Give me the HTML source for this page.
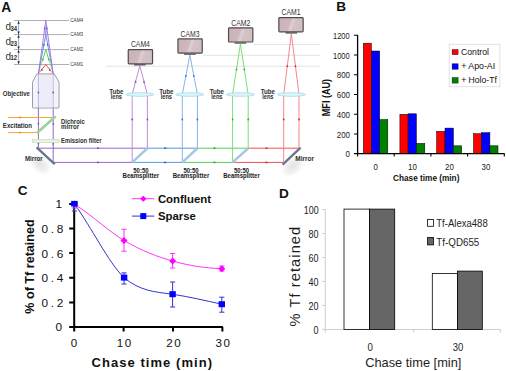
<!DOCTYPE html>
<html><head><meta charset="utf-8">
<style>
html,body{margin:0;padding:0;background:#fff;}
body{width:506px;height:371px;overflow:hidden;}
svg{display:block;font-family:"Liberation Sans",sans-serif;}
</style></head>
<body>
<svg width="506" height="371" viewBox="0 0 506 371">
<rect x="0" y="0" width="506" height="371" fill="#fff"/>

<!-- ================= PANEL A ================= -->
<g id="panelA">
<text x="1.2" y="12.1" font-size="13.8" font-weight="bold" fill="#111">A</text>
<g stroke="#dcdcdc" stroke-width="0.8"><path d="M254 44.5H320M203 55.3H320M106 66.2H320"/></g>
<g stroke="#b0b0b0" stroke-width="1"><path d="M14 20.5H69M14 34.6H69M14 49.6H69M14 64.5H69"/></g>
<text x="70.2" y="22.3" font-size="6.0" fill="#333" textLength="13.0" lengthAdjust="spacingAndGlyphs">CAM4</text>
<text x="70.2" y="36.4" font-size="6.0" fill="#333" textLength="13.0" lengthAdjust="spacingAndGlyphs">CAM3</text>
<text x="70.2" y="51.4" font-size="6.0" fill="#333" textLength="13.0" lengthAdjust="spacingAndGlyphs">CAM2</text>
<text x="70.2" y="66.3" font-size="6.0" fill="#333" textLength="13.0" lengthAdjust="spacingAndGlyphs">CAM1</text>
<g stroke="#555" stroke-width="0.5"><path d="M18.6 21V64"/></g>
<g fill="#222">
<path d="M18.6 20.9l-1.2 2.8h2.4z"/>
<path d="M18.6 34.2l-1.2 -2.8h2.4z"/>
<path d="M18.6 35.0l-1.2 2.8h2.4z"/>
<path d="M18.6 49.2l-1.2 -2.8h2.4z"/>
<path d="M18.6 50.0l-1.2 2.8h2.4z"/>
<path d="M18.6 64.1l-1.2 -2.8h2.4z"/>
</g>
<text x="5.4" y="30.2" font-size="10" fill="#333">d</text>
<text x="10.5" y="31.0" font-size="6.4" font-weight="bold" fill="#2a2a2a" textLength="6.6" lengthAdjust="spacingAndGlyphs">34</text>
<text x="5.4" y="44.9" font-size="10" fill="#333">d</text>
<text x="10.5" y="45.699999999999996" font-size="6.4" font-weight="bold" fill="#2a2a2a" textLength="6.6" lengthAdjust="spacingAndGlyphs">23</text>
<text x="5.4" y="59.6" font-size="10" fill="#333">d</text>
<text x="10.5" y="60.4" font-size="6.4" font-weight="bold" fill="#2a2a2a" textLength="6.6" lengthAdjust="spacingAndGlyphs">12</text>
<defs><linearGradient id="gG" gradientUnits="userSpaceOnUse" x1="0" y1="49.6" x2="0" y2="74"><stop offset="0" stop-color="#40d040"/><stop offset="0.42" stop-color="#40d040"/><stop offset="0.62" stop-color="#40d040" stop-opacity="0.3"/><stop offset="1" stop-color="#40d040" stop-opacity="0.12"/></linearGradient><linearGradient id="gR" gradientUnits="userSpaceOnUse" x1="0" y1="64.5" x2="0" y2="74"><stop offset="0" stop-color="#e84040"/><stop offset="0.55" stop-color="#e84040"/><stop offset="0.8" stop-color="#e84040" stop-opacity="0.35"/><stop offset="1" stop-color="#e84040" stop-opacity="0.15"/></linearGradient></defs>
<path d="M38.4 74L45.8 20.5L53.2 74" fill="none" stroke="#a070d8" stroke-width="0.9"/>
<path d="M38.4 74L45.8 34.6L53.2 74" fill="none" stroke="#6a84e4" stroke-width="0.9"/>
<path d="M38.4 74L45.8 49.6L53.2 74" fill="none" stroke="url(#gG)" stroke-width="0.9"/>
<path d="M38.4 74L45.8 64.5L53.2 74" fill="none" stroke="url(#gR)" stroke-width="0.9"/>
<path d="M45.8 34.6L44.7 26M45.8 34.6L46.9 26" stroke="#6a84e4" stroke-width="0.7" fill="none"/>
<path d="M44.75 26.80l-1.1 2.4h2.2z" fill="#a050d0"/>
<path d="M46.85 26.80l-1.1 2.4h2.2z" fill="#a050d0"/>
<path d="M43.94 43.20l-1.1 2.4h2.2z" fill="#3060e0"/>
<path d="M47.66 43.20l-1.1 2.4h2.2z" fill="#3060e0"/>
<path d="M42.89 57.90l-1.1 2.4h2.2z" fill="#30c030"/>
<path d="M48.71 57.90l-1.1 2.4h2.2z" fill="#30c030"/>
<path d="M41.83 68.30l-1.1 2.4h2.2z" fill="#e03030"/>
<path d="M49.77 68.30l-1.1 2.4h2.2z" fill="#e03030"/>
<g stroke="#946ac8" stroke-width="1" fill="none"><path d="M38.4 74V148.2H147.4M53.2 74V162.4H132.2"/></g>
<path d="M36.9 73.9H54.3L59 82.2V107.2Q59 108 58.2 108H33.3Q32.5 108 32.5 107.2V82.2Z" fill="#e9ecf5" fill-opacity="0.55" stroke="#9c9cab" stroke-width="1"/>
<rect x="39.2" y="75" width="13.2" height="32.5" fill="#e6e8f8" fill-opacity="0.6"/>
<path d="M38.4 94.2l-1.1 -2.4h2.2z" fill="#8050c0"/>
<path d="M38.4 145.6l-1.1 -2.4h2.2z" fill="#8050c0"/>
<path d="M38.4 125.6l-1.1 -2.4h2.2z" fill="#8050c0"/>
<path d="M53.2 94.2l-1.1 -2.4h2.2z" fill="#8050c0"/>
<path d="M53.2 145.6l-1.1 -2.4h2.2z" fill="#8050c0"/>
<path d="M53.2 125.6l-1.1 -2.4h2.2z" fill="#8050c0"/>
<g stroke="#f7a540" stroke-width="1"><path d="M7.9 117.5H55M7.9 132.6H37.7"/></g>
<g fill="#e08a20"><path d="M22 117.5l-2.4 -1.2v2.4z" /><path d="M22 132.6l-2.4 -1.2v2.4z"/></g>
<path d="M37.2 132.8L55.6 116.4" stroke="#88cc88" stroke-width="2.6"/>
<path d="M37.2 132.8L55.6 116.4" stroke="#b8e4b0" stroke-width="0.8" />
<rect x="32.4" y="139.4" width="26.7" height="3.1" fill="#e8f3e2" stroke="#c6dcbc" stroke-width="0.7"/>
<defs><radialGradient id="shd" cx="0.5" cy="0.5" r="0.5"><stop offset="0" stop-color="#e3e3e3"/><stop offset="0.55" stop-color="#f1f1f1"/><stop offset="1" stop-color="#fff" stop-opacity="0"/></radialGradient></defs>
<ellipse cx="40" cy="164" rx="15" ry="10" fill="url(#shd)" transform="rotate(43 40 164)"/>
<ellipse cx="293" cy="166" rx="16" ry="10" fill="url(#shd)" transform="rotate(-43 293 166)"/>
<path d="M36.6 147.4L54.7 164.2" stroke="#66768f" stroke-width="2.3"/>
<path d="M282.6 164.6L300.6 147.6" stroke="#66768f" stroke-width="2.3"/>
<path d="M147.4 148.2H197.4M132.2 162.4H182.3" stroke="#5a98d4" stroke-width="1" fill="none"/>
<path d="M197.4 148.2H248.2M182.3 162.4H232.6" stroke="#58d058" stroke-width="1" fill="none"/>
<path d="M248.2 148.2H299M232.6 162.4H283.7" stroke="#f05050" stroke-width="1" fill="none"/>
<defs><linearGradient id="camg" x1="0" y1="0" x2="1" y2="0.2"><stop offset="0" stop-color="#cab1b7"/><stop offset="0.5" stop-color="#cfb8bd"/><stop offset="0.6" stop-color="#e0d0d4"/><stop offset="0.7" stop-color="#d5c2c6"/><stop offset="1" stop-color="#d2bfc3"/></linearGradient></defs>
<path d="M132.2 162.4V94.4L139.80 65.8L147.4 94.4V148.2" stroke="#bb80d8" stroke-width="0.9" fill="none"/>
<path d="M132.2 117.8l-1.1 2.4h2.2z" fill="#9040b0"/>
<path d="M147.4 117.8l-1.1 2.4h2.2z" fill="#9040b0"/>
<path d="M135.60 80.30l-1.1 2.4h2.2z" fill="#9040b0"/>
<path d="M144.00 80.30l-1.1 2.4h2.2z" fill="#9040b0"/>
<ellipse cx="139.80" cy="94.5" rx="14.1" ry="1.8" fill="#ddf5fa" stroke="#98d4e4" stroke-width="0.7"/>
<rect x="128.25" y="49.60" width="24.3" height="14.2" rx="0.8" fill="url(#camg)" stroke="#4f4b4c" stroke-width="1.2"/>
<rect x="134.00" y="64.1" width="11.6" height="1.4" fill="#555"/>
<text x="130.9" y="47.3" font-size="8.3" fill="#333" textLength="19.0" lengthAdjust="spacingAndGlyphs">CAM4</text>
<text x="109.2" y="93.5" font-size="6.4" font-weight="bold" fill="#2e2e2e" textLength="14.3" lengthAdjust="spacingAndGlyphs">Tube</text>
<text x="110.7" y="99.1" font-size="6.4" font-weight="bold" fill="#2e2e2e" textLength="11.3" lengthAdjust="spacingAndGlyphs">lens</text>
<path d="M182.3 162.4V94.4L189.85 55.1L197.4 94.4V148.2" stroke="#78ace4" stroke-width="0.9" fill="none"/>
<path d="M182.3 117.8l-1.1 2.4h2.2z" fill="#3070c8"/>
<path d="M197.4 117.8l-1.1 2.4h2.2z" fill="#3070c8"/>
<path d="M185.89 74.40l-1.1 2.4h2.2z" fill="#3070c8"/>
<path d="M193.81 74.40l-1.1 2.4h2.2z" fill="#3070c8"/>
<ellipse cx="189.85" cy="94.5" rx="14.1" ry="1.8" fill="#ddf5fa" stroke="#98d4e4" stroke-width="0.7"/>
<rect x="177.95" y="38.90" width="24.3" height="14.2" rx="0.8" fill="url(#camg)" stroke="#4f4b4c" stroke-width="1.2"/>
<rect x="184.05" y="53.4" width="11.6" height="1.4" fill="#555"/>
<text x="180.6" y="36.6" font-size="8.3" fill="#333" textLength="19.0" lengthAdjust="spacingAndGlyphs">CAM3</text>
<text x="159.2" y="93.5" font-size="6.4" font-weight="bold" fill="#2e2e2e" textLength="14.3" lengthAdjust="spacingAndGlyphs">Tube</text>
<text x="160.7" y="99.1" font-size="6.4" font-weight="bold" fill="#2e2e2e" textLength="11.3" lengthAdjust="spacingAndGlyphs">lens</text>
<path d="M232.6 162.4V94.4L240.40 44.0L248.2 94.4V148.2" stroke="#68dc68" stroke-width="0.9" fill="none"/>
<path d="M232.6 117.8l-1.1 2.4h2.2z" fill="#20b020"/>
<path d="M248.2 117.8l-1.1 2.4h2.2z" fill="#20b020"/>
<path d="M236.50 67.90l-1.1 2.4h2.2z" fill="#20b020"/>
<path d="M244.30 67.90l-1.1 2.4h2.2z" fill="#20b020"/>
<ellipse cx="240.40" cy="94.5" rx="14.1" ry="1.8" fill="#ddf5fa" stroke="#98d4e4" stroke-width="0.7"/>
<rect x="228.55" y="27.80" width="24.3" height="14.2" rx="0.8" fill="url(#camg)" stroke="#4f4b4c" stroke-width="1.2"/>
<rect x="234.60" y="42.3" width="11.6" height="1.4" fill="#555"/>
<text x="231.2" y="25.5" font-size="8.3" fill="#333" textLength="19.0" lengthAdjust="spacingAndGlyphs">CAM2</text>
<text x="209.7" y="93.5" font-size="6.4" font-weight="bold" fill="#2e2e2e" textLength="14.3" lengthAdjust="spacingAndGlyphs">Tube</text>
<text x="211.2" y="99.1" font-size="6.4" font-weight="bold" fill="#2e2e2e" textLength="11.3" lengthAdjust="spacingAndGlyphs">lens</text>
<path d="M283.7 162.4V94.4L291.35 33.9L299.0 94.4V148.2" stroke="#f27a7a" stroke-width="0.9" fill="none"/>
<path d="M283.7 117.8l-1.1 2.4h2.2z" fill="#e02020"/>
<path d="M299.0 117.8l-1.1 2.4h2.2z" fill="#e02020"/>
<path d="M287.29 64.70l-1.1 2.4h2.2z" fill="#e02020"/>
<path d="M295.41 64.70l-1.1 2.4h2.2z" fill="#e02020"/>
<ellipse cx="291.35" cy="94.5" rx="14.1" ry="1.8" fill="#ddf5fa" stroke="#98d4e4" stroke-width="0.7"/>
<rect x="278.85" y="17.70" width="24.3" height="14.2" rx="0.8" fill="url(#camg)" stroke="#4f4b4c" stroke-width="1.2"/>
<rect x="285.55" y="32.2" width="11.6" height="1.4" fill="#555"/>
<text x="281.5" y="15.4" font-size="8.3" fill="#333" textLength="19.0" lengthAdjust="spacingAndGlyphs">CAM1</text>
<text x="260.7" y="93.5" font-size="6.4" font-weight="bold" fill="#2e2e2e" textLength="14.3" lengthAdjust="spacingAndGlyphs">Tube</text>
<text x="262.2" y="99.1" font-size="6.4" font-weight="bold" fill="#2e2e2e" textLength="11.3" lengthAdjust="spacingAndGlyphs">lens</text>
<path d="M132.2 162.4L147.4 148.2" stroke="#a6c8e4" stroke-width="2.6"/>
<text x="133.3" y="172.8" font-size="7.2" font-weight="bold" fill="#222" textLength="15.2" lengthAdjust="spacingAndGlyphs">50:50</text>
<text x="122.6" y="178.1" font-size="7.0" font-weight="bold" fill="#222" textLength="36.6" lengthAdjust="spacingAndGlyphs">Beamsplitter</text>
<path d="M182.3 162.4L197.4 148.2" stroke="#a6c8e4" stroke-width="2.6"/>
<text x="183.4" y="172.8" font-size="7.2" font-weight="bold" fill="#222" textLength="15.2" lengthAdjust="spacingAndGlyphs">50:50</text>
<text x="172.7" y="178.1" font-size="7.0" font-weight="bold" fill="#222" textLength="36.6" lengthAdjust="spacingAndGlyphs">Beamsplitter</text>
<path d="M232.6 162.4L248.2 148.2" stroke="#a6c8e4" stroke-width="2.6"/>
<text x="233.9" y="172.8" font-size="7.2" font-weight="bold" fill="#222" textLength="15.2" lengthAdjust="spacingAndGlyphs">50:50</text>
<text x="223.2" y="178.1" font-size="7.0" font-weight="bold" fill="#222" textLength="36.6" lengthAdjust="spacingAndGlyphs">Beamsplitter</text>
<path d="M99.8 148.2l-2.6 -1.1v2.2z" fill="#8040c0"/>
<path d="M99.8 162.4l-2.6 -1.1v2.2z" fill="#8040c0"/>
<path d="M167.0 148.2l-2.6 -1.1v2.2z" fill="#2060b0"/>
<path d="M167.0 162.4l-2.6 -1.1v2.2z" fill="#2060b0"/>
<path d="M216.3 148.2l-2.6 -1.1v2.2z" fill="#20a020"/>
<path d="M216.3 162.4l-2.6 -1.1v2.2z" fill="#20a020"/>
<path d="M268.3 148.2l-2.6 -1.1v2.2z" fill="#e02020"/>
<path d="M268.3 162.4l-2.6 -1.1v2.2z" fill="#e02020"/>
<text x="2.8" y="96.0" font-size="7.0" font-weight="bold" fill="#2e2e2e" textLength="27.1" lengthAdjust="spacingAndGlyphs">Objective</text>
<text x="2.8" y="127.8" font-size="6.6" font-weight="bold" fill="#2e2e2e" textLength="29.3" lengthAdjust="spacingAndGlyphs">Excitation</text>
<text x="61.0" y="124.4" font-size="6.4" font-weight="bold" fill="#2e2e2e" textLength="23.7" lengthAdjust="spacingAndGlyphs">Dichroic</text>
<text x="61.0" y="129.3" font-size="6.4" font-weight="bold" fill="#2e2e2e" textLength="18.2" lengthAdjust="spacingAndGlyphs">mirror</text>
<text x="61.0" y="142.7" font-size="6.4" font-weight="bold" fill="#2e2e2e" textLength="40.5" lengthAdjust="spacingAndGlyphs">Emission filter</text>
<text x="25.0" y="160.8" font-size="6.8" font-weight="bold" fill="#2e2e2e" textLength="17.6" lengthAdjust="spacingAndGlyphs">Mirror</text>
<text x="295.3" y="160.8" font-size="6.8" font-weight="bold" fill="#2e2e2e" textLength="18.7" lengthAdjust="spacingAndGlyphs">Mirror</text>
</g>
<!-- END A -->

<!-- ================= PANEL B ================= -->
<g id="panelB">
<text x="336.2" y="11.2" font-size="13.6" font-weight="bold" fill="#111">B</text>
<!-- bars -->
<g stroke="#000" stroke-width="0.5">
<rect x="363.3" y="43.2" width="8.1" height="110.4" fill="#ff0000"/>
<rect x="371.4" y="51" width="8.3" height="102.6" fill="#0000ff"/>
<rect x="379.7" y="119.6" width="8.1" height="34" fill="#008000"/>
<rect x="399.9" y="114.3" width="8.2" height="39.3" fill="#ff0000"/>
<rect x="408.1" y="113.8" width="8.3" height="39.8" fill="#0000ff"/>
<rect x="416.4" y="143.4" width="8.4" height="10.2" fill="#008000"/>
<rect x="436.6" y="131.3" width="8.4" height="22.3" fill="#ff0000"/>
<rect x="445.0" y="128.1" width="8.4" height="25.5" fill="#0000ff"/>
<rect x="453.4" y="145.8" width="8.3" height="7.8" fill="#008000"/>
<rect x="473.5" y="133.7" width="8.1" height="19.9" fill="#ff0000"/>
<rect x="481.6" y="132.7" width="8.3" height="20.9" fill="#0000ff"/>
<rect x="489.9" y="145.8" width="8.1" height="7.8" fill="#008000"/>
</g>
<!-- axes -->
<g stroke="#000" stroke-width="1.3" fill="none">
<path d="M357.6 35.2V153.6H504.6"/>
<path d="M354 35.3H358M354 55H358M354 74.8H358M354 94.5H358M354 114.2H358M354 134H358M354 153.6H358" stroke-width="1.1"/>
<path d="M357.6 153.6V156.6M394.2 153.6V156.6M430.9 153.6V156.6M467.6 153.6V156.6M504.3 153.6V156.6" stroke-width="1.1"/>
</g>
<g font-size="8.6" fill="#1a1a1a">
<text x="333" y="38.8" textLength="16.7" lengthAdjust="spacingAndGlyphs">1200</text>
<text x="333" y="58.5" textLength="16.7" lengthAdjust="spacingAndGlyphs">1000</text>
<text x="336.8" y="78.3" textLength="13.2" lengthAdjust="spacingAndGlyphs">800</text>
<text x="336.8" y="98" textLength="13.2" lengthAdjust="spacingAndGlyphs">600</text>
<text x="336.8" y="117.7" textLength="13.2" lengthAdjust="spacingAndGlyphs">400</text>
<text x="336.8" y="137.5" textLength="13.2" lengthAdjust="spacingAndGlyphs">200</text>
<text x="345.6" y="157.1" textLength="4.4" lengthAdjust="spacingAndGlyphs">0</text>
</g>
<g font-size="8.6" fill="#1a1a1a">
<text x="373.6" y="169.7" textLength="4.4" lengthAdjust="spacingAndGlyphs">0</text>
<text x="408.1" y="169.7" textLength="8.8" lengthAdjust="spacingAndGlyphs">10</text>
<text x="445" y="169.7" textLength="8.8" lengthAdjust="spacingAndGlyphs">20</text>
<text x="481.6" y="169.7" textLength="8.8" lengthAdjust="spacingAndGlyphs">30</text>
</g>
<text x="393" y="180.6" font-size="8.2" font-weight="bold" fill="#111" textLength="66.4" lengthAdjust="spacingAndGlyphs">Chase time (min)</text>
<text transform="translate(329.9,116.2) rotate(-90)" font-size="10.4" font-weight="bold" fill="#111" textLength="37.3" lengthAdjust="spacingAndGlyphs">MFI (AU)</text>
<!-- legend -->
<rect x="449.2" y="44.2" width="50.7" height="42.6" fill="#fff" stroke="#d4d4d4" stroke-width="0.7"/>
<rect x="452.1" y="49.6" width="6" height="5.1" fill="#ff0000" stroke="#000" stroke-width="0.4"/>
<rect x="452.1" y="63.8" width="6" height="5.4" fill="#0000ff" stroke="#000" stroke-width="0.4"/>
<rect x="452.1" y="77.6" width="6" height="5.5" fill="#008000" stroke="#000" stroke-width="0.4"/>
<g font-size="9.2" fill="#111">
<text x="461" y="55.2" textLength="28" lengthAdjust="spacingAndGlyphs">Control</text>
<text x="461.2" y="68.8" textLength="34" lengthAdjust="spacingAndGlyphs">+ Apo-AI</text>
<text x="461.2" y="82.6" textLength="35.6" lengthAdjust="spacingAndGlyphs">+ Holo-Tf</text>
</g>
</g>

<!-- ================= PANEL C ================= -->
<g id="panelC">
<text x="17.8" y="195.3" font-size="13.6" font-weight="bold" fill="#111">C</text>
<g stroke="#000" stroke-width="2" fill="none">
<path d="M74.2 203.4V327.1H222.9"/>
<path d="M69.2 203.9H74M69.2 228.5H74M69.2 253.1H74M69.2 277.8H74M69.2 302.4H74M69.2 327.1H74"/>
<path d="M74.2 327H74.2V331.5M123.6 327V331.5M173 327V331.5M222.4 327V331.5"/>
</g>
<g font-size="11.8" fill="#111">
<text x="55.5" y="208.3" textLength="7.6" lengthAdjust="spacing">1</text>
<text x="41.6" y="232.9" textLength="21.6" lengthAdjust="spacing">0.8</text>
<text x="41.6" y="257.5" textLength="21.6" lengthAdjust="spacing">0.6</text>
<text x="41.6" y="282.2" textLength="21.6" lengthAdjust="spacing">0.4</text>
<text x="41.6" y="306.8" textLength="21.6" lengthAdjust="spacing">0.2</text>
<text x="55.5" y="331.4" textLength="7.6" lengthAdjust="spacing">0</text>
</g>
<g font-size="11.6" fill="#111">
<text x="70.8" y="347.3" textLength="7.6" lengthAdjust="spacing">0</text>
<text x="116.8" y="347.3" textLength="14.4" lengthAdjust="spacing">10</text>
<text x="166.2" y="347.3" textLength="14.4" lengthAdjust="spacing">20</text>
<text x="215.6" y="347.3" textLength="14.4" lengthAdjust="spacing">30</text>
</g>
<text x="91.6" y="367.4" font-size="13" font-weight="bold" fill="#111" textLength="120.4" lengthAdjust="spacing">Chase time (min)</text>
<text transform="translate(34.2,266.5) rotate(-90)" font-size="12.6" font-weight="bold" text-anchor="middle" fill="#111">% of Tf retained</text>
<!-- legend -->
<path d="M132 198.7H154.3" stroke="#ff33ff" stroke-width="1"/>
<path d="M143.3 195.7L146.5 198.7L143.3 201.7L140.1 198.7Z" fill="#ff00ff"/>
<text x="157.9" y="202.8" font-size="11.4" font-weight="bold" fill="#111">Confluent</text>
<path d="M132 216.1H154.3" stroke="#3333cc" stroke-width="1"/>
<rect x="140.3" y="213.1" width="6" height="6" fill="#0000ff"/>
<text x="157.9" y="220.2" font-size="11.4" font-weight="bold" fill="#111">Sparse</text>
<!-- error bars -->
<g stroke="#ff33ff" stroke-width="1">
<path d="M124 229.3V251.2M121.4 229.3H126.6M121.4 251.2H126.6"/>
<path d="M172.6 253.5V268M170 253.5H175.2M170 268H175.2"/>
<path d="M221.8 266V271M219.2 266H224.4M219.2 271H224.4"/>
<path d="M74.4 203.9V208M71.8 208H77"/>
</g>
<g stroke="#3333cc" stroke-width="1">
<path d="M124 272.9V284M121.4 272.9H126.6M121.4 284H126.6"/>
<path d="M172.6 282V307M170 282H175.2M170 307H175.2"/>
<path d="M221.8 297.2V312.2M219.2 297.2H224.4M219.2 312.2H224.4"/>
<path d="M74.4 203.9V211M71.8 211H77"/>
</g>
<!-- curves -->
<path d="M74.4 203.9C95 218 110 232 124 240.5C142 251 158 257 172.6 261C190 266 205 268 221.8 268.7" fill="none" stroke="#ff33ff" stroke-width="1"/>
<path d="M74.4 203.9C92 228 108 262 124 277.6C140 291 155 292 172.6 294.2C190 297 205 300.5 221.8 304.2" fill="none" stroke="#3333cc" stroke-width="1"/>
<!-- markers -->
<g fill="#ff00ff">
<path d="M124 237L127.5 240.5L124 244L120.5 240.5Z"/>
<path d="M172.6 257.5L176.1 261L172.6 264.5L169.1 261Z"/>
<path d="M221.8 265.2L225.3 268.7L221.8 272.2L218.3 268.7Z"/>
<path d="M74.4 200.4L77.9 203.9L74.4 207.4L70.9 203.9Z"/>
</g>
<g fill="#0000ff">
<rect x="120.9" y="274.6" width="6.4" height="6"/>
<rect x="169.4" y="291.2" width="6.4" height="6"/>
<rect x="218.6" y="301.2" width="6.4" height="6"/>
<rect x="71.1" y="200.9" width="6.6" height="5.6"/>
</g>
</g>

<!-- ================= PANEL D ================= -->
<g id="panelD">
<text x="278.9" y="198.4" font-size="13.6" font-weight="bold" fill="#111">D</text>
<g stroke="#c4c4c4" stroke-width="0.8" fill="none">
<path d="M325.3 209.5V329.5H500.4"/>
<path d="M322.1 209.5H325.3M322.1 233.5H325.3M322.1 257.5H325.3M322.1 281.4H325.3M322.1 305.4H325.3M322.1 329.4H325.3M413.6 329.5V332.6M500.4 329.5V332.6M325.3 329.5V332.6"/>
</g>
<g stroke="#000" stroke-width="0.8">
<rect x="344" y="209.1" width="25.4" height="120.4" fill="#fff"/>
<rect x="369.4" y="209.1" width="25.3" height="120.4" fill="#666"/>
<rect x="432.3" y="273.5" width="25.2" height="56" fill="#fff"/>
<rect x="457.5" y="271.1" width="24.8" height="58.4" fill="#666"/>
</g>
<g font-size="11" fill="#1a1a1a">
<text x="303.8" y="214.0" textLength="14.8" lengthAdjust="spacingAndGlyphs">100</text>
<text x="308.6" y="238.0" textLength="10.0" lengthAdjust="spacingAndGlyphs">80</text>
<text x="308.6" y="262.0" textLength="10.0" lengthAdjust="spacingAndGlyphs">60</text>
<text x="308.6" y="285.9" textLength="10.0" lengthAdjust="spacingAndGlyphs">40</text>
<text x="308.6" y="309.9" textLength="10.0" lengthAdjust="spacingAndGlyphs">20</text>
<text x="313.6" y="333.9" textLength="5.0" lengthAdjust="spacingAndGlyphs">0</text>
</g>
<g font-size="11" fill="#1e1e1e">
<text x="367.4" y="351.3" textLength="5.4" lengthAdjust="spacingAndGlyphs">0</text>
<text x="452.8" y="351.3" textLength="10.6" lengthAdjust="spacingAndGlyphs">30</text>
</g>
<text x="365.2" y="367.3" font-size="13.6" fill="#1e1e1e" textLength="96.2" lengthAdjust="spacingAndGlyphs">Chase time [min]</text>
<text transform="translate(300.2,326.4) rotate(-90)" font-size="14.6" fill="#1e1e1e" textLength="99.6" lengthAdjust="spacing">% Tf retained</text>
<rect x="427.6" y="219.5" width="5.8" height="6.8" fill="#fff" stroke="#000" stroke-width="0.8"/>
<rect x="427.6" y="237.5" width="5.8" height="7.4" fill="#666" stroke="#000" stroke-width="0.8"/>
<text x="436.3" y="226.6" font-size="11.8" fill="#1e1e1e" textLength="51.4" lengthAdjust="spacingAndGlyphs">Tf-Alexa488</text>
<text x="436.3" y="245.6" font-size="11.8" fill="#1e1e1e" textLength="43" lengthAdjust="spacingAndGlyphs">Tf-QD655</text>
</g>

</svg>
</body></html>
